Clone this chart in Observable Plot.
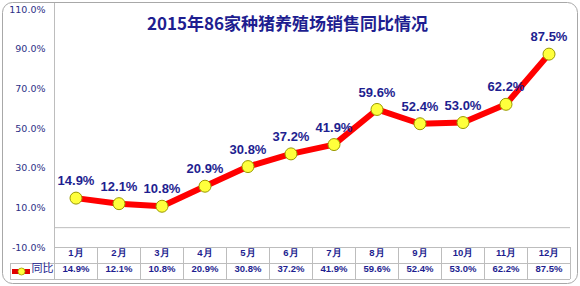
<!DOCTYPE html>
<html>
<head>
<meta charset="utf-8">
<script src="https://cdn.jsdelivr.net/npm/d3@7"></script>
<script src="https://cdn.jsdelivr.net/npm/@observablehq/plot@0.6"></script>
<style>
  html, body { margin: 0; padding: 0; background: #fff; }
</style>
</head>
<body>
<div id="chart"></div>
<script>
const title = "2015年86家种猪养殖场销售同比情况";
const months = ["1月","2月","3月","4月","5月","6月","7月","8月","9月","10月","11月","12月"];
const values = [14.9, 12.1, 10.8, 20.9, 30.8, 37.2, 41.9, 59.6, 52.4, 53.0, 62.2, 87.5];
const yTicks = [-10, 10, 30, 50, 70, 90, 110];
const seriesName = "同比";

const data = months.map((m, i) => ({month: m, value: values[i]}));
const fmt = v => v.toFixed(1) + "%";

const W = 580, H = 286, ML = 54, MR = 10, MT = 9, MB = 39;
const bw = (W - ML - MR) / months.length;
const navy = "#1e1e90";
const axisBlue = "#2b2f86";
const grid = "#bdbdbd";

const chart = Plot.plot({
  width: W, height: H,
  marginLeft: ML, marginRight: MR, marginTop: MT, marginBottom: MB,
  style: {background: "#fff", fontFamily: "Liberation Sans, Arial, sans-serif", overflow: "visible"},
  x: {type: "band", domain: months, padding: 0, axis: null},
  y: {domain: [-10, 110], axis: null},
  marks: [
    // outer rounded border
    Plot.frame({stroke: "#a8a8a8", rx: 10, insetLeft: -(ML - 2), insetTop: -(MT - 2), insetRight: -(MR - 3), insetBottom: -(MB - 3)}),
    // vertical axis line
    Plot.frame({anchor: "left", stroke: grid, insetTop: -6, insetBottom: -32}),
    // zero line
    Plot.ruleY([0], {stroke: grid}),
    // table row lines
    Plot.ruleY([-10], {stroke: grid}),
    Plot.ruleY([-10], {stroke: grid, dy: 16, insetLeft: -44}),
    Plot.ruleY([-10], {stroke: grid, dy: 32, insetLeft: -44}),
    // table column separators
    Plot.ruleX(months, {x: d => d, stroke: grid, dx: -bw / 2, y1: -10, y2: -10, insetBottom: -32}),
    Plot.ruleX([months[months.length - 1]], {x: d => d, stroke: grid, dx: bw / 2, y1: -10, y2: -10, insetBottom: -32}),
    Plot.ruleX([months[0]], {x: d => d, stroke: grid, dx: -bw / 2 - 44, y1: -10, y2: -10, insetTop: 16, insetBottom: -32}),
    // y axis labels
    Plot.axisY({ticks: yTicks, tickFormat: fmt, tickSize: 0, tickPadding: 9, fontSize: 9.5, fill: axisBlue, label: null, fontFamily: "DejaVu Sans, sans-serif"}),
    // series line
    Plot.line(data, {x: "month", y: "value", stroke: "#ff0000", strokeWidth: 6, strokeLinejoin: "round", strokeLinecap: "round"}),
    Plot.dot(data, {x: "month", y: "value", r: 6, fill: "#ffff3c", stroke: "#9a9a00", strokeWidth: 1}),
    // data labels
    Plot.text(data, {x: "month", y: "value", text: d => fmt(d.value), dy: -17, fontSize: 13, fontWeight: "bold", fill: navy}),
    // table text
    Plot.text(months, {x: d => d, text: d => d, frameAnchor: "bottom", dy: 8, fontSize: 9.5, fill: navy, fontWeight: 600}),
    Plot.text(data, {x: "month", text: d => fmt(d.value), frameAnchor: "bottom", dy: 24, fontSize: 9.5, fill: navy, fontWeight: 600}),
    // legend swatch
    Plot.ruleY([-10], {stroke: "#e00000", strokeWidth: 5, dy: 24, insetLeft: -(ML - 12), insetRight: (W - ML - MR) + 24}),
    Plot.dot([0], {frameAnchor: "bottom-left", dx: -33, dy: 24, r: 3.5, fill: "#ffff3c", stroke: "#9a9a00", strokeWidth: 0.8}),
    Plot.text([seriesName], {frameAnchor: "bottom-left", dx: -23, dy: 24, textAnchor: "start", fontSize: 11, fill: navy, fontFamily: "Noto Sans CJK SC, sans-serif"}),
    // title
    Plot.text([title], {frameAnchor: "top", dx: -25, dy: 8, fontSize: 17, fontWeight: "bold", fill: navy, fontFamily: "Noto Sans CJK SC, sans-serif"})
  ]
});
document.getElementById("chart").appendChild(chart);
</script>
</body>
</html>
